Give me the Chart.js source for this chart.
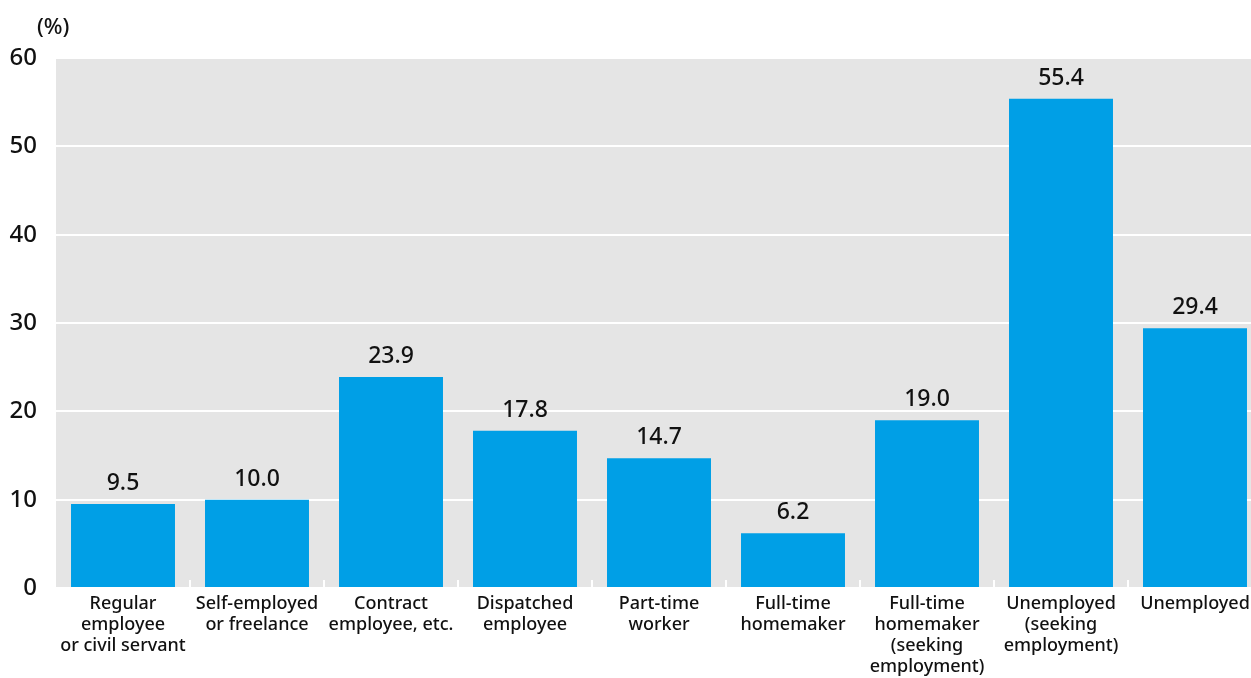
<!DOCTYPE html>
<html>
<head>
<meta charset="utf-8">
<script src="https://cdn.jsdelivr.net/npm/chart.js@4/dist/chart.umd.min.js"></script>
<style>
  html, body { margin: 0; padding: 0; background: #fff; }
  #wrap { width: 1251px; height: 678px; position: relative; overflow: hidden; }
  #c { display: block; }
</style>
</head>
<body>
<div id="wrap"><canvas id="c" width="1262" height="678"></canvas></div>
<script>
const categories = [
  ["Regular", "employee", "or civil servant"],
  ["Self-employed", "or freelance"],
  ["Contract", "employee, etc."],
  ["Dispatched", "employee"],
  ["Part-time", "worker"],
  ["Full-time", "homemaker"],
  ["Full-time", "homemaker", "(seeking", "employment)"],
  ["Unemployed", "(seeking", "employment)"],
  ["Unemployed"]
];
const values = [9.5, 10.0, 23.9, 17.8, 14.7, 6.2, 19.0, 55.4, 29.4];
const yTicks = [0, 10, 20, 30, 40, 50, 60];
const unitLabel = "(%)";

const FONT = "'Noto Sans', 'Open Sans', sans-serif";

const plotBackground = {
  id: 'plotBackground',
  beforeDraw(chart) {
    const { ctx, chartArea: a } = chart;
    ctx.save();
    ctx.fillStyle = '#e5e5e5';
    ctx.fillRect(a.left, a.top, a.right - a.left, a.bottom - a.top);
    ctx.restore();
  }
};

const extras = {
  id: 'extras',
  afterDatasetsDraw(chart) {
    const { ctx, chartArea: a } = chart;
    const xs = chart.scales.x;
    ctx.save();
    // short separators between categories along the baseline
    ctx.strokeStyle = '#ffffff';
    ctx.lineWidth = 2;
    for (let i = 0; i < categories.length - 1; i++) {
      const x = Math.round((xs.getPixelForValue(i) + xs.getPixelForValue(i + 1)) / 2);
      ctx.beginPath();
      ctx.moveTo(x, a.bottom - 8);
      ctx.lineTo(x, a.bottom);
      ctx.stroke();
    }
    // value labels above each bar
    ctx.fillStyle = '#111';
    ctx.font = '500 23px ' + FONT;
    ctx.textAlign = 'center';
    ctx.textBaseline = 'alphabetic';
    const meta = chart.getDatasetMeta(0);
    meta.data.forEach((bar, i) => {
      ctx.fillText(values[i].toFixed(1), bar.x, bar.y - 14);
    });
    // unit label
    ctx.font = '500 22px ' + FONT;
    ctx.textAlign = 'left';
    ctx.textBaseline = 'middle';
    ctx.fillText(unitLabel, 37, 28);
    ctx.restore();
  }
};

new Chart(document.getElementById('c'), {
  type: 'bar',
  data: {
    labels: categories,
    datasets: [{
      data: values,
      backgroundColor: '#009fe6',
      borderWidth: 0,
      barPercentage: 0.776,
      categoryPercentage: 1.0
    }]
  },
  options: {
    responsive: false,
    animation: false,
    layout: { padding: { top: 58, right: 0, left: 0, bottom: 0 } },
    plugins: { legend: { display: false }, tooltip: { enabled: false } },
    scales: {
      x: {
        grid: { display: false, drawTicks: false },
        border: { display: false },
        ticks: {
          color: '#111',
          font: { family: FONT, size: 18, weight: 500, lineHeight: 1.17 },
          padding: 5,
          maxRotation: 0,
          autoSkip: false
        },
        afterFit(scale) { scale.height = 90; }
      },
      y: {
        min: 0,
        max: 60,
        afterBuildTicks(scale) { scale.ticks = yTicks.map(v => ({ value: v })); },
        grid: { color: '#ffffff', lineWidth: 2, drawTicks: false },
        border: { display: false },
        ticks: {
          color: '#111',
          font: { family: FONT, size: 24, weight: 500 },
          padding: 19
        },
        afterFit(scale) { scale.width = 56; }
      }
    }
  },
  plugins: [plotBackground, extras]
});
</script>
</body>
</html>
